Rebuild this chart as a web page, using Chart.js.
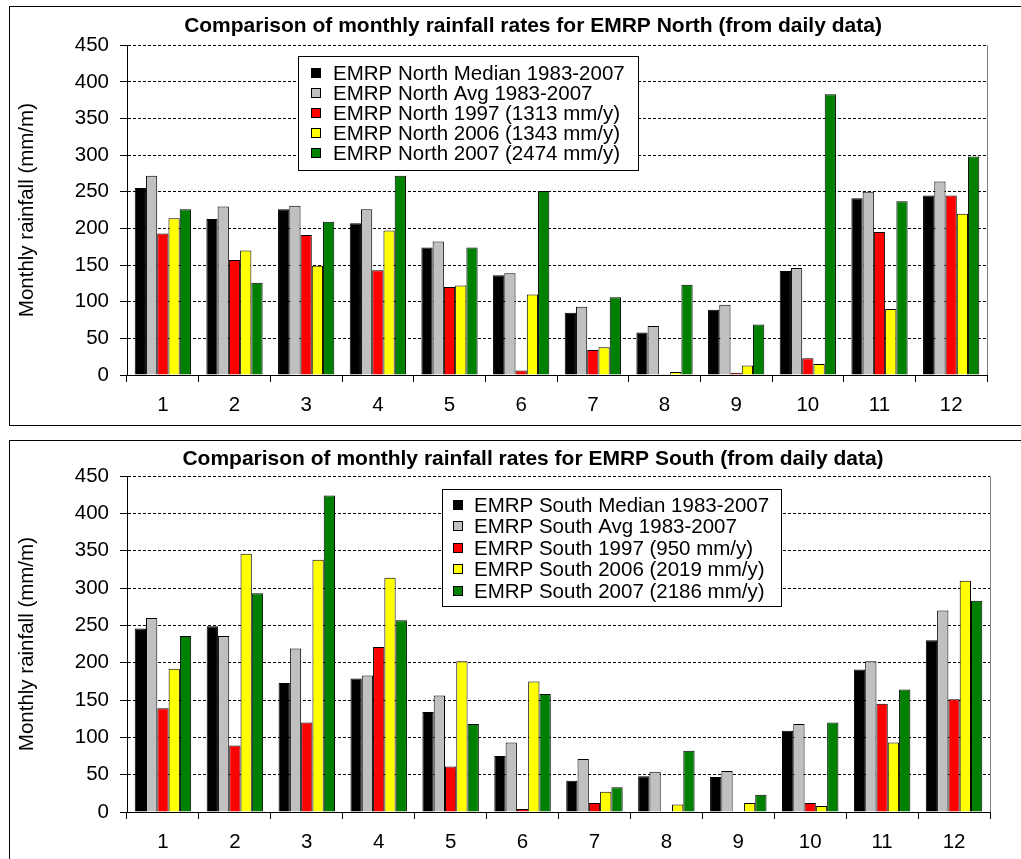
<!DOCTYPE html>
<html>
<head>
<meta charset="utf-8">
<title>Monthly rainfall EMRP</title>
<script src="https://cdn.jsdelivr.net/npm/chart.js"></script>
<style>
  html, body { margin: 0; padding: 0; background: #fff; overflow: hidden; }
  .frame { position: absolute; left: 9px; border: 1px solid #000; background: #fff; }
  #topFrame { top: 6px; width: 1046px; height: 418px; }
  #bottomFrame { top: 440px; width: 1046px; height: 430px; }
  canvas { display: block; }
</style>
</head>
<body>
<div class="frame" id="topFrame"><canvas id="northChart" width="1046" height="418"></canvas></div>
<div class="frame" id="bottomFrame"><canvas id="southChart" width="1046" height="430"></canvas></div>
<script>
// months on the x axis
const months = ['1', '2', '3', '4', '5', '6', '7', '8', '9', '10', '11', '12'];
const yMax = 450;
const yStep = 50;

// EMRP North (mm per month)
const northNames = [
  'EMRP North Median 1983-2007',
  'EMRP North Avg 1983-2007',
  'EMRP North 1997 (1313 mm/y)',
  'EMRP North 2006 (1343 mm/y)',
  'EMRP North 2007 (2474 mm/y)'
];
const northMedian = [255, 213, 226, 207, 174, 136, 85, 58, 89, 142, 241, 245];
const northAvg    = [272, 230, 231, 226, 182, 139, 93, 67, 96, 146, 250, 264];
const north1997   = [193, 157, 191, 143, 120, 6, 34, 1, 3, 23, 195, 245];
const north2006   = [214, 170, 149, 197, 122, 110, 38, 4, 13, 15, 90, 220];
const north2007   = [226, 126, 209, 272, 174, 251, 106, 123, 69, 383, 237, 298];

// EMRP South (mm per month)
const southNames = [
  'EMRP South Median 1983-2007',
  'EMRP South Avg 1983-2007',
  'EMRP South 1997 (950 mm/y)',
  'EMRP South 2006 (2019 mm/y)',
  'EMRP South 2007 (2186 mm/y)'
];
const southMedian = [246, 249, 173, 179, 134, 75, 42, 48, 47, 109, 191, 230];
const southAvg    = [260, 236, 219, 183, 156, 93, 71, 54, 55, 118, 202, 270];
const south1997   = [139, 89, 120, 221, 61, 4, 12, 0, 0, 12, 145, 151];
const south2006   = [192, 346, 338, 314, 202, 175, 27, 10, 12, 8, 93, 310];
const south2007   = [236, 293, 424, 257, 118, 158, 33, 82, 23, 120, 164, 283];

const seriesColors = ['#000000', '#C0C0C0', '#FF0000', '#FFFF00', '#008000'];

Chart.defaults.font.family = 'Arial, "Liberation Sans", sans-serif';
Chart.defaults.color = '#000';

// grey right edge of the plot area
const plotFrame = {
  id: 'plotFrame',
  afterDatasetsDraw(chart) {
    const { ctx, chartArea: a } = chart;
    ctx.save();
    ctx.strokeStyle = '#808080';
    ctx.lineWidth = 1;
    ctx.beginPath();
    ctx.moveTo(a.right + 0.5, a.top);
    ctx.lineTo(a.right + 0.5, a.bottom);
    ctx.stroke();
    ctx.restore();
  }
};

// boxed legend sitting inside the plot
const boxLegend = {
  id: 'boxLegend',
  afterDraw(chart, args, o) {
    const ctx = chart.ctx;
    ctx.save();
    ctx.fillStyle = '#fff';
    ctx.fillRect(o.x, o.y, o.w, o.h);
    ctx.strokeStyle = '#000';
    ctx.lineWidth = 1;
    ctx.strokeRect(o.x + 0.5, o.y + 0.5, o.w, o.h);
    ctx.font = '20.5px Arial, "Liberation Sans", sans-serif';
    ctx.textBaseline = 'middle';
    chart.data.datasets.forEach((ds, i) => {
      const cy = Math.round(o.y + o.first + i * o.row);
      ctx.fillStyle = ds.backgroundColor;
      ctx.fillRect(o.x + o.mark, cy - 5, 9, 9);
      ctx.strokeRect(o.x + o.mark + 0.5, cy - 4.5, 9, 9);
      ctx.fillStyle = '#000';
      ctx.fillText(ds.label, o.x + o.text, cy + 1);
    });
    ctx.restore();
  }
};

function makeChart(id, title, names, series, lay) {
  const datasets = series.map((vals, i) => ({
    label: names[i],
    data: vals,
    backgroundColor: seriesColors[i],
    borderColor: '#000',
    borderWidth: 1,
    categoryPercentage: 0.785,
    barPercentage: 1.0
  }));

  return new Chart(document.getElementById(id), {
    type: 'bar',
    data: { labels: months, datasets: datasets },
    options: {
      responsive: false,
      animation: false,
      layout: { padding: 0 },
      plugins: {
        legend: { display: false },
        tooltip: { enabled: false },
        title: {
          display: true,
          text: title,
          font: { size: 21, weight: 'bold' },
          color: '#000',
          padding: { top: lay.titleTop, bottom: lay.titleBottom }
        },
        boxLegend: lay.legend
      },
      scales: {
        x: {
          grid: {
            offset: true,
            drawOnChartArea: false,
            drawTicks: true,
            tickLength: 7,
            tickColor: '#000'
          },
          border: { color: '#000', width: 1 },
          ticks: { font: { size: 20.5 }, color: '#000', padding: lay.xPad },
          afterFit: s => { s.height = lay.xHeight; }
        },
        y: {
          min: 0,
          max: yMax,
          grid: {
            color: '#000',
            lineWidth: 1,
            tickLength: 7,
            tickColor: '#000',
            tickBorderDash: []
          },
          border: { color: '#000', width: 1, dash: [3, 2] },
          ticks: { stepSize: yStep, font: { size: 20.5 }, color: '#000', padding: 11 },
          title: {
            display: true,
            text: 'Monthly rainfall (mm/m)',
            font: { size: 20.5 },
            color: '#000',
            padding: { top: 5, bottom: 0 }
          },
          afterFit: s => { s.width = lay.left; }
        },
        // empty right-hand axis: keeps the gap between plot and frame
        gap: {
          position: 'right',
          display: true,
          grid: { display: false },
          border: { display: false },
          ticks: { display: false },
          afterFit: s => { s.width = lay.rightGap; }
        }
      }
    },
    plugins: [plotFrame, boxLegend]
  });
}

makeChart('northChart',
  'Comparison of monthly rainfall rates for EMRP North (from daily data)',
  northNames,
  [northMedian, northAvg, north1997, north2006, north2007],
  {
    titleTop: 7, titleBottom: 6,
    xHeight: 50, xPad: 11,
    left: 117, rightGap: 69,
    legend: { x: 288, y: 49, w: 340, h: 114, first: 17, row: 20, mark: 13, text: 35 }
  });

makeChart('southChart',
  'Comparison of monthly rainfall rates for EMRP South (from daily data)',
  southNames,
  [southMedian, southAvg, south1997, south2006, south2007],
  {
    titleTop: 6, titleBottom: 4,
    xHeight: 59, xPad: 11,
    left: 117, rightGap: 66,
    legend: { x: 432, y: 48, w: 339, h: 117, first: 16, row: 21.4, mark: 11, text: 32 }
  });
</script>
</body>
</html>
